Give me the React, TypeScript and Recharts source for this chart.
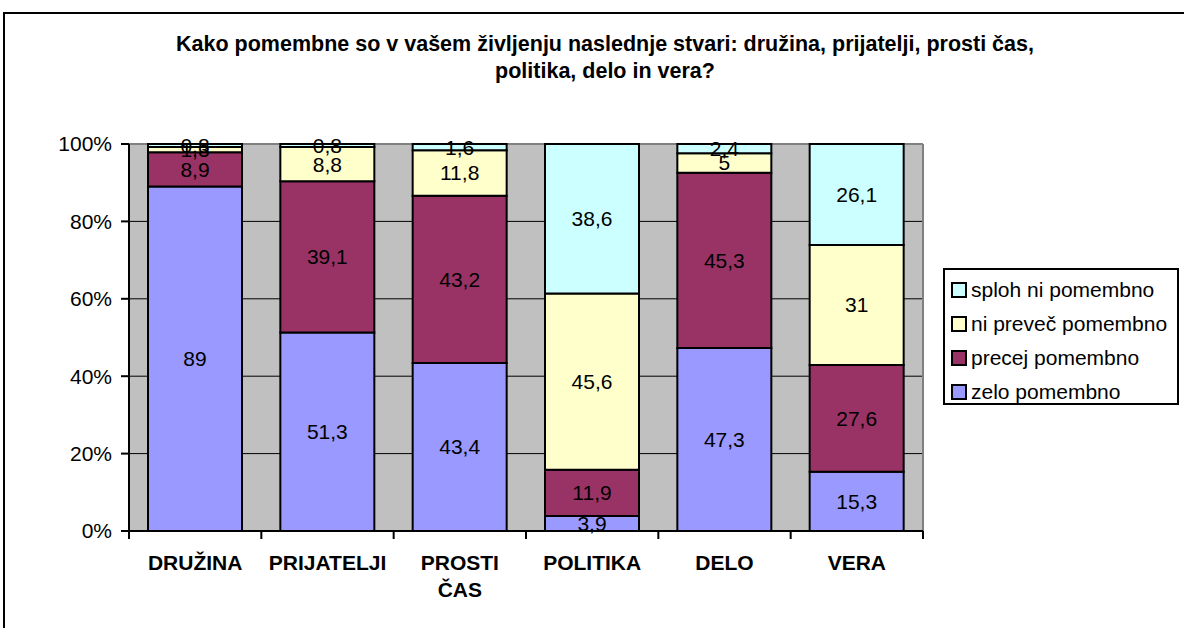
import { BarChart, Bar, XAxis, YAxis, CartesianGrid, LabelList } from "recharts";

const categories = ["DRUŽINA", "PRIJATELJI", "PROSTI ČAS", "POLITIKA", "DELO", "VERA"];
const zelo = [89, 51.3, 43.4, 3.9, 47.3, 15.3];
const precej = [8.9, 39.1, 43.2, 11.9, 45.3, 27.6];
const niPrevec = [1.3, 8.8, 11.8, 45.6, 5, 31];
const sploh = [0.8, 0.8, 1.6, 38.6, 2.4, 26.1];
const yTicks = [0, 0.2, 0.4, 0.6, 0.8, 1];

const series = [
  { key: "zelo", name: "zelo pomembno", color: "#9999FF" },
  { key: "precej", name: "precej pomembno", color: "#993366" },
  { key: "niPrevec", name: "ni preveč pomembno", color: "#FFFFCC" },
  { key: "sploh", name: "sploh ni pomembno", color: "#CCFFFF" },
];

const data = categories.map((name, i) => ({
  name,
  zelo: zelo[i],
  precej: precej[i],
  niPrevec: niPrevec[i],
  sploh: sploh[i],
}));

const FONT = "Arial, 'Liberation Sans', sans-serif";
const W = 1184;
const H = 628;
const PLOT_LEFT = 129;
const PLOT_RIGHT = 923;
const PLOT_TOP = 144;
const PLOT_BOTTOM = 531;
const BAND = (PLOT_RIGHT - PLOT_LEFT) / categories.length;

const fmt = (v: any) => String(v).replace(".", ",");

// category label + tick marks between the categories (Excel style)
const CategoryTick = (props: any) => {
  const { x, payload, index } = props;
  const lines = String(payload.value).split(" ");
  return (
    <g>
      <line x1={x - BAND / 2} x2={x - BAND / 2} y1={PLOT_BOTTOM} y2={PLOT_BOTTOM + 8} stroke="#000" strokeWidth={2} />
      {index === categories.length - 1 && (
        <line x1={x + BAND / 2} x2={x + BAND / 2} y1={PLOT_BOTTOM} y2={PLOT_BOTTOM + 8} stroke="#000" strokeWidth={2} />
      )}
      <text x={x} y={PLOT_BOTTOM + 39} textAnchor="middle" fontFamily={FONT} fontSize={21} fontWeight="bold" fill="#000">
        {lines.map((l, i) => (
          <tspan key={i} x={x} dy={i === 0 ? 0 : 27}>
            {l}
          </tspan>
        ))}
      </text>
    </g>
  );
};

export default function App() {
  return (
    <div style={{ position: "absolute", left: 0, top: 0, width: W, height: H, overflow: "hidden", background: "#fff", fontFamily: FONT }}>
      <div style={{ position: "absolute", left: 3, top: 12, width: 1400, height: 900, border: "2px solid #000" }} />
      <div
        style={{
          position: "absolute",
          left: 105,
          top: 31,
          width: 1000,
          textAlign: "center",
          fontWeight: "bold",
          fontSize: 21.5,
          lineHeight: "27px",
          color: "#000",
        }}
      >
        Kako pomembne so v vašem življenju naslednje stvari: družina, prijatelji, prosti čas,
        <br />
        politika, delo in vera?
      </div>

      <div style={{ position: "absolute", left: 0, top: 0 }}>
        <BarChart
          width={W}
          height={H}
          data={data}
          stackOffset="expand"
          margin={{ top: PLOT_TOP, right: W - PLOT_RIGHT, bottom: 0, left: 0 }}
        >
          <CartesianGrid vertical={false} stroke="#000" strokeWidth={1} fill="#C0C0C0" fillOpacity={1} />
          <CartesianGrid
            horizontalPoints={[PLOT_TOP]}
            verticalPoints={[PLOT_RIGHT]}
            stroke="#808080"
            strokeWidth={2}
          />
          <XAxis
            dataKey="name"
            height={H - PLOT_BOTTOM}
            axisLine={{ stroke: "#000", strokeWidth: 2 }}
            tickLine={false}
            tick={<CategoryTick />}
            interval={0}
          />
          <YAxis
            width={PLOT_LEFT}
            domain={[0, 1]}
            ticks={yTicks}
            tickFormatter={(v: number) => `${Math.round(v * 100)}%`}
            axisLine={{ stroke: "#000", strokeWidth: 2 }}
            tickLine={{ stroke: "#000", strokeWidth: 2 }}
            tickSize={8}
            tickMargin={9}
            tick={{ fill: "#000", fontSize: 21, fontFamily: FONT }}
          />
          {series.map((s) => (
            <Bar
              key={s.key}
              dataKey={s.key}
              name={s.name}
              stackId="a"
              fill={s.color}
              stroke="#000"
              strokeWidth={2}
              barSize={94}
              isAnimationActive={false}
            >
              <LabelList
                dataKey={s.key}
                position="center"
                formatter={fmt}
                fill="#000"
                fontSize={21}
                fontFamily={FONT}
              />
            </Bar>
          ))}
        </BarChart>
      </div>

      <div
        style={{
          position: "absolute",
          left: 943,
          top: 268,
          width: 236,
          height: 137,
          border: "2px solid #000",
          background: "#fff",
          boxSizing: "border-box",
          paddingTop: 3,
        }}
      >
        {[...series].reverse().map((s) => (
          <div key={s.key} style={{ display: "flex", alignItems: "center", height: 34, fontSize: 21, color: "#000", whiteSpace: "nowrap" }}>
            <span style={{ display: "inline-block", width: 12, height: 12, border: "2px solid #000", background: s.color, marginLeft: 6, marginRight: 4 }} />
            {s.name}
          </div>
        ))}
      </div>
    </div>
  );
}
